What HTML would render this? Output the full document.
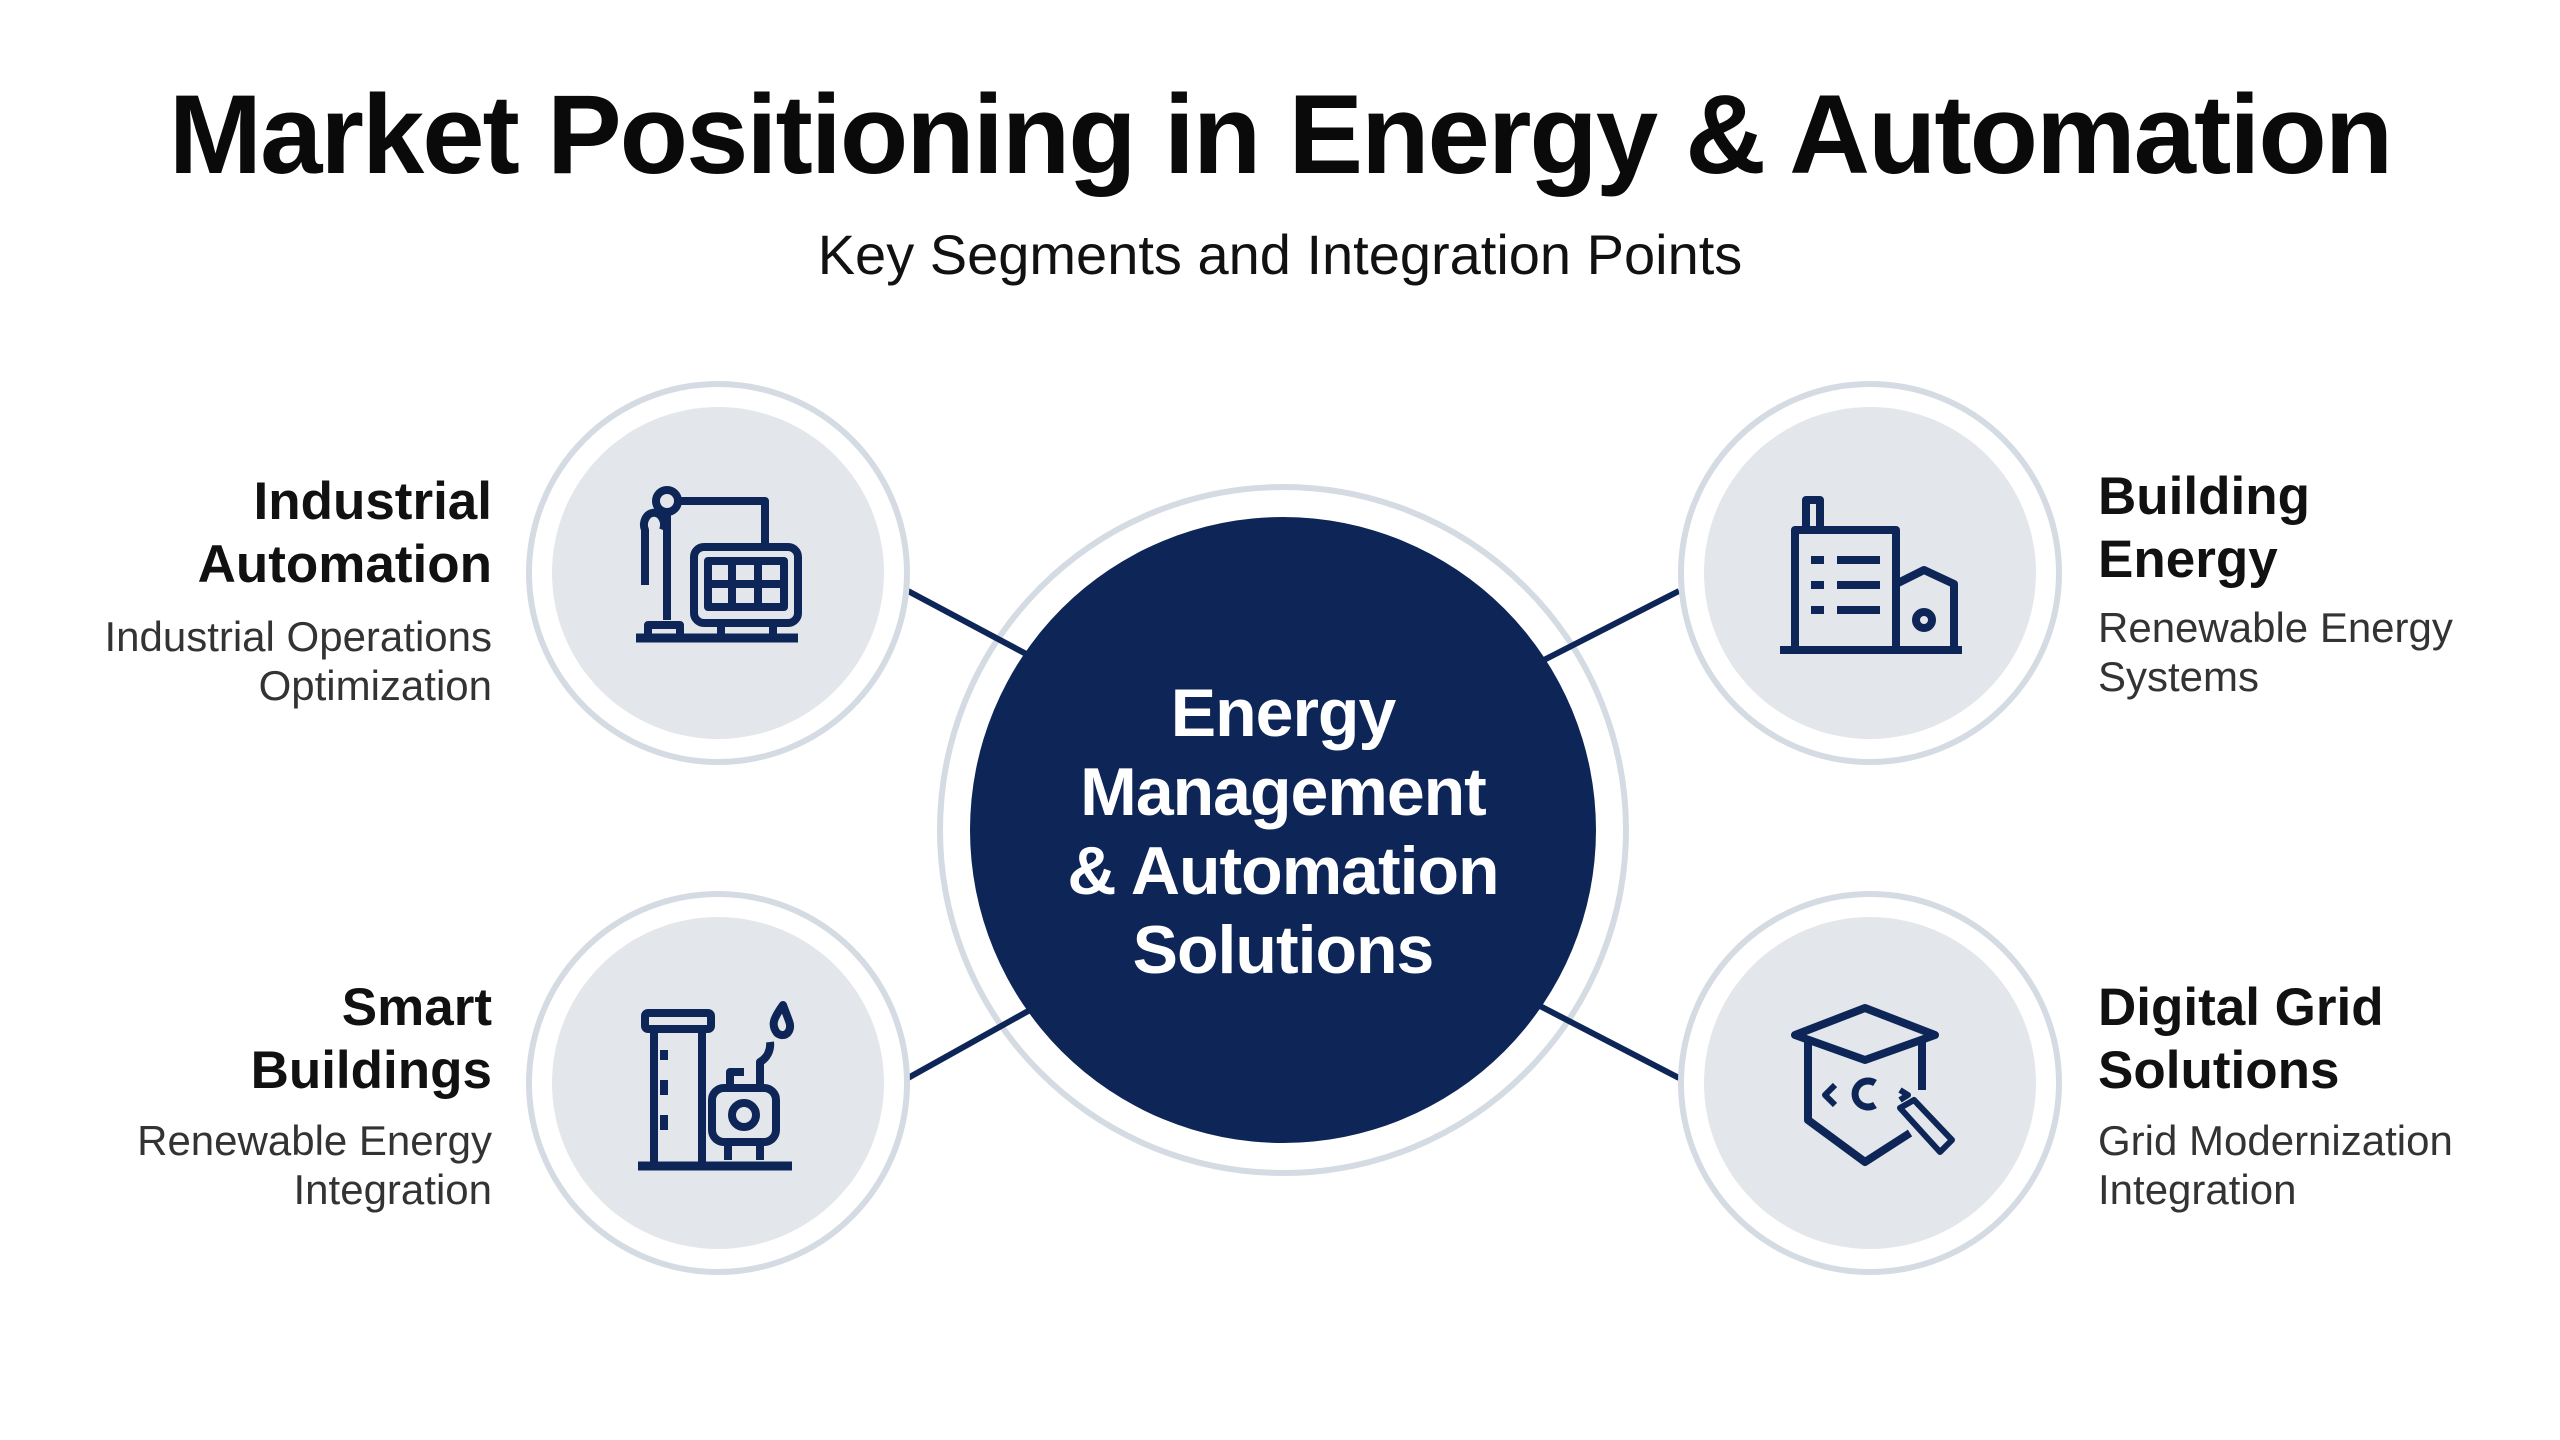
<!DOCTYPE html>
<html><head><meta charset="utf-8"><style>
html,body{margin:0;padding:0;background:#fff;}
body{width:2560px;height:1440px;overflow:hidden;position:relative;font-family:"Liberation Sans",Arial,sans-serif;}
.t{position:absolute;white-space:nowrap;color:#111;}
h1{position:absolute;left:0;width:2560px;top:70px;margin:0;text-align:center;font-size:112px;font-weight:bold;letter-spacing:-2px;color:#0a0a0a;}
.sub{position:absolute;left:0;width:2560px;top:222px;text-align:center;font-size:56px;color:#111;}
.hd{font-weight:bold;font-size:53px;line-height:63px;}
.ds{font-size:42px;line-height:49px;color:#333;}
.r{text-align:right;}
</style></head><body>
<h1>Market Positioning in Energy &amp; Automation</h1>
<div class="sub">Key Segments and Integration Points</div>
<svg width="2560" height="1440" style="position:absolute;left:0;top:0">
<circle cx="1283" cy="830" r="343" fill="#fff" stroke="#d5dbe3" stroke-width="6"/>
<g stroke="#0d2657" stroke-width="6">
<line x1="908" y1="591" x2="1030" y2="656"/>
<line x1="1679" y1="591" x2="1540" y2="662"/>
<line x1="908" y1="1078" x2="1030" y2="1010"/>
<line x1="1679" y1="1078" x2="1540" y2="1006"/>
</g>
<circle cx="1283" cy="830" r="313" fill="#0d2657"/>
<g>
<circle cx="718" cy="573" r="189" fill="#fff" stroke="#d5dbe3" stroke-width="6"/>
<circle cx="718" cy="573" r="166" fill="#e3e6ea"/>
<circle cx="1870" cy="573" r="189" fill="#fff" stroke="#d5dbe3" stroke-width="6"/>
<circle cx="1870" cy="573" r="166" fill="#e3e6ea"/>
<circle cx="718" cy="1083" r="189" fill="#fff" stroke="#d5dbe3" stroke-width="6"/>
<circle cx="718" cy="1083" r="166" fill="#e3e6ea"/>
<circle cx="1870" cy="1083" r="189" fill="#fff" stroke="#d5dbe3" stroke-width="6"/>
<circle cx="1870" cy="1083" r="166" fill="#e3e6ea"/>
</g>
<g fill="none" stroke="#0d2657" stroke-width="8" stroke-linejoin="round">
<circle cx="667" cy="501" r="11"/>
<path d="M667 513 V620 M678 501 H765 V545"/>
<path d="M645 585 V530 a10 12 0 1 1 18 0"/>
<rect x="694" y="547" width="104" height="76" rx="10"/>
<rect x="708" y="561" width="76" height="46"/>
<path d="M732 563 V605 M758 563 V605 M710 584 H782"/>
<path d="M648 638 V625 H680 V638 M721 623 V638 M773 623 V638"/>
<path d="M636 638 H798" stroke-width="9"/>
<path d="M1780 650 H1962"/>
<path d="M1795 650 V530 H1896 V650"/>
<path d="M1806 530 V500 H1820 V530"/>
<path d="M1896 584 L1924 570 L1954 584 V650"/>
<path d="M1811 560 H1824 M1837 560 H1880 M1811 585 H1824 M1837 585 H1880 M1811 610 H1824 M1837 610 H1880"/>
<circle cx="1924" cy="620" r="8"/>
<rect x="645" y="1013" width="66" height="16" rx="3"/>
<path d="M654 1029 V1163 M702 1029 V1163 M664 1050 V1060 M664 1080 V1095 M664 1115 V1130"/>
<rect x="712" y="1088" width="64" height="54" rx="12"/>
<circle cx="744" cy="1115" r="12"/>
<path d="M730 1088 V1072 H744 M760 1088 V1062 a20 20 0 0 0 10 -20"/>
<path d="M783 1005 c-10 14 -12 20 -6 28 c8 6 16 -2 12 -12 z"/>
<path d="M728 1142 V1160 M760 1142 V1160"/>
<path d="M638 1166 H792" stroke-width="9"/>
<path d="M1795 1035 L1865 1008 L1935 1035 L1865 1060 Z"/>
<path d="M1808 1041 V1120 L1865 1162 L1910 1133 M1922 1041 V1090"/>
<path d="M1835 1085 L1825 1095 L1835 1105" stroke-width="6"/>
<path d="M1875 1083 a13 13 0 1 0 0 22" stroke-width="7"/>
<path d="M1900 1090 L1908 1095 L1900 1100" stroke-width="6"/>
<path d="M1900 1108 L1914 1100 L1952 1140 L1940 1152 Z" stroke-width="6"/>
</g>
</svg>
<div class="t" style="left:1283px;transform:translateX(-50%);top:674px;text-align:center;color:#fff;font-weight:bold;font-size:68px;line-height:79px;letter-spacing:-1px;">Energy<br>Management<br>&amp; Automation<br>Solutions</div>

<div class="t r" style="right:2068px;top:470px;"><div class="hd">Industrial<br>Automation</div><div class="ds" style="margin-top:16px">Industrial Operations<br>Optimization</div></div>
<div class="t" style="left:2098px;top:465px;"><div class="hd">Building<br>Energy</div><div class="ds" style="margin-top:12px">Renewable Energy<br>Systems</div></div>
<div class="t r" style="right:2068px;top:976px;"><div class="hd">Smart<br>Buildings</div><div class="ds" style="margin-top:14px">Renewable Energy<br>Integration</div></div>
<div class="t" style="left:2098px;top:976px;"><div class="hd">Digital Grid<br>Solutions</div><div class="ds" style="margin-top:14px">Grid Modernization<br>Integration</div></div>
</body></html>
